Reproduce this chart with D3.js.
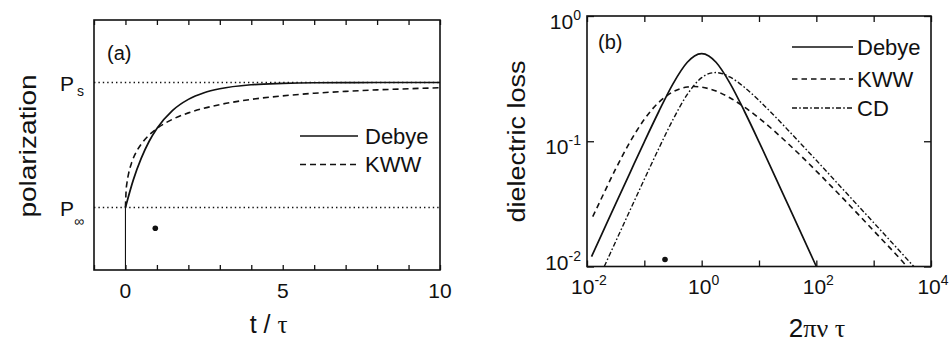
<!DOCTYPE html>
<html>
<head>
<meta charset="utf-8">
<script src="https://cdn.jsdelivr.net/npm/d3@7"></script>
<style>
  body { margin: 0; background: #fff; }
  svg { display: block; font-family: "Liberation Sans", Arial, Helvetica, sans-serif; }
</style>
</head>
<body>
<svg id="fig" width="952" height="345"></svg>
<script>
// ---------- Panel (a): polarization after a field step (P∞ = 0, Ps = 1) ----------
const timeTicks = [0, 5, 10];
const debyeT = [0, 0.25, 0.5, 0.75, 1, 1.5, 2, 2.5, 3, 4, 5, 6, 7, 8, 10];
const debyeP = [0, 0.221, 0.393, 0.528, 0.632, 0.777, 0.865, 0.918, 0.950, 0.982, 0.993, 0.998, 0.999, 1.0, 1.0];
const kwwT = [0, 0.02, 0.05, 0.1, 0.2, 0.35, 0.5, 0.75, 1, 1.5, 2, 3, 4, 5, 6, 7, 8, 9, 10];
const kwwP = [0, 0.132, 0.200, 0.271, 0.361, 0.447, 0.507, 0.579, 0.632, 0.706, 0.757, 0.823, 0.865, 0.893, 0.914, 0.929, 0.941, 0.950, 0.958];
const levelSubs = ["s", "\u221E"];
const levelValues = [1, 0];

// ---------- Panel (b): dielectric loss spectra ----------
const freqTicks = [1e-2, 1e0, 1e2, 1e4];
const freqExp = ["-2", "0", "2", "4"];
const lossTicks = [1e-2, 1e-1, 1e0];
const lossExp = ["-2", "-1", "0"];

const debyeW = [0.012, 0.0178, 0.0316, 0.0562, 0.1, 0.178, 0.316, 0.562, 0.75, 1, 1.333, 1.78, 3.16, 5.62, 10, 17.8, 31.6, 56.2, 100];
const debyeLoss = [0.0120, 0.0178, 0.0316, 0.0560, 0.0990, 0.172, 0.2875, 0.427, 0.480, 0.500, 0.480, 0.427, 0.2875, 0.172, 0.0990, 0.0560, 0.0316, 0.0178, 0.0100];

const kwwW = [0.0126, 0.0178, 0.0316, 0.0562, 0.1, 0.178, 0.316, 0.562, 0.75, 1, 1.78, 3.16, 5.62, 10, 17.8, 31.6, 56.2, 100, 316, 1000, 3160, 3800];
const kwwLoss = [0.0250, 0.0349, 0.0601, 0.0986, 0.1497, 0.2041, 0.2481, 0.2710, 0.2735, 0.2705, 0.2515, 0.2213, 0.1869, 0.1531, 0.1226, 0.0965, 0.0751, 0.0578, 0.0337, 0.0193, 0.0110, 0.0100];

const cdW = [0.02, 0.0316, 0.0562, 0.1, 0.178, 0.316, 0.562, 1, 1.333, 1.78, 2.37, 3.16, 5.62, 10, 17.8, 31.6, 56.2, 100, 316, 1000, 3160, 5010];
const cdLoss = [0.0100, 0.0158, 0.0281, 0.0497, 0.0872, 0.1489, 0.2365, 0.3218, 0.3464, 0.3535, 0.3447, 0.3245, 0.2688, 0.2117, 0.1628, 0.1237, 0.0934, 0.0704, 0.0397, 0.0224, 0.0126, 0.0100];

const legendA = ["Debye", "KWW"];
const legendB = ["Debye", "KWW", "CD"];

const svg = d3.select("#fig");
const ink = "#111";
const serif = "'Liberation Serif', 'DejaVu Serif', serif";
const styles = {
  solid: null,
  dashed: "6 4",
  dashdot: "5 2.2 1.6 2.2"
};

// ===================== Panel (a) =====================
const xA = d3.scaleLinear().domain([-1, 10]).range([94, 440]);
const yA = d3.scaleLinear().domain([-0.5, 1.5]).range([270, 20]);

const gA = svg.append("g");

// dotted reference levels Ps and P∞
gA.selectAll("line.level").data(levelValues).join("line")
  .attr("x1", xA(-1)).attr("x2", xA(10))
  .attr("y1", d => yA(d)).attr("y2", d => yA(d))
  .attr("stroke", ink).attr("stroke-width", 1.3)
  .attr("stroke-dasharray", "1.4 3");

// step at t = 0
gA.append("line")
  .attr("x1", xA(0)).attr("x2", xA(0))
  .attr("y1", yA(-0.5)).attr("y2", yA(0))
  .attr("stroke", ink).attr("stroke-width", 1.1);

const lineA = d3.line().x(d => xA(d[0])).y(d => yA(d[1])).curve(d3.curveMonotoneX);
gA.append("path").datum(d3.zip(debyeT, debyeP)).attr("d", lineA)
  .attr("fill", "none").attr("stroke", ink).attr("stroke-width", 1.7);
gA.append("path").datum(d3.zip(kwwT, kwwP)).attr("d", lineA)
  .attr("fill", "none").attr("stroke", ink).attr("stroke-width", 1.6)
  .attr("stroke-dasharray", styles.dashed);

// ticks (inward) on top and bottom
const tA = d3.range(-1, 11);
gA.append("g").attr("transform", `translate(0,${yA(-0.5)})`)
  .call(d3.axisBottom(xA).tickValues(tA).tickSizeInner(-5).tickSizeOuter(0).tickFormat(""))
  .call(g => g.select(".domain").remove());
gA.append("g").attr("transform", `translate(0,${yA(1.5)})`)
  .call(d3.axisTop(xA).tickValues(tA).tickSizeInner(-5).tickSizeOuter(0).tickFormat(""))
  .call(g => g.select(".domain").remove());
gA.selectAll(".tick line").attr("stroke", ink).attr("stroke-width", 1.3);

// frame
gA.append("rect").attr("x", xA(-1)).attr("y", yA(1.5))
  .attr("width", xA(10) - xA(-1)).attr("height", yA(-0.5) - yA(1.5))
  .attr("fill", "none").attr("stroke", ink).attr("stroke-width", 1.6);

// x tick labels
gA.selectAll("text.xt").data(timeTicks).join("text")
  .attr("x", d => xA(d)).attr("y", 298).attr("text-anchor", "middle")
  .attr("font-size", 21).attr("fill", ink).text(d => d);

// P level labels
levelValues.forEach((v, i) => {
  gA.append("text").attr("x", 60).attr("y", yA(v) + 8)
    .attr("font-size", 21).attr("fill", ink).text("P");
  if (i === 0) {
    gA.append("text").attr("x", 77).attr("y", yA(v) + 13.5)
      .attr("font-size", 14).attr("fill", ink).text(levelSubs[i]);
  } else {
    gA.append("text").attr("x", 74).attr("y", yA(v) + 18)
      .attr("font-size", 14).attr("fill", ink).text(levelSubs[i]);
  }
});

// axis titles
gA.append("text").attr("transform", "translate(36,146) rotate(-90) scale(1,0.86)")
  .attr("text-anchor", "middle").attr("font-size", 28).attr("fill", ink).text("polarization");
const tt = gA.append("text").attr("x", xA(4.55)).attr("y", 333)
  .attr("text-anchor", "middle").attr("font-size", 25).attr("fill", ink);
tt.append("tspan").text("t / ");
tt.append("tspan").attr("font-family", serif).text("\u03C4");

gA.append("text").attr("x", 107).attr("y", 60).attr("font-size", 20).attr("fill", ink).text("(a)");

// legend (a)
const legAStyle = [styles.solid, styles.dashed];
legendA.forEach((name, i) => {
  const y = 136 + i * 28.5;
  gA.append("line").attr("x1", 300).attr("x2", 358).attr("y1", y).attr("y2", y)
    .attr("stroke", ink).attr("stroke-width", i ? 1.6 : 1.3)
    .attr("stroke-dasharray", legAStyle[i]);
  gA.append("text").attr("x", 365).attr("y", y).attr("dy", "0.36em")
    .attr("font-size", 22).attr("fill", ink).text(name);
});

// stray mark
gA.append("circle").attr("cx", 155.3).attr("cy", 228.3).attr("r", 2.8).attr("fill", ink);

// ===================== Panel (b) =====================
const xB = d3.scaleLog().domain([1e-2, 1e4]).range([587, 931]);
const yB = d3.scaleLog().domain([1e-2, 1]).range([266.5, 16]);

const gB = svg.append("g");

const lineB = d3.line().x(d => xB(d[0])).y(d => yB(d[1])).curve(d3.curveMonotoneX);
gB.append("path").datum(d3.zip(debyeW, debyeLoss)).attr("d", lineB)
  .attr("fill", "none").attr("stroke", ink).attr("stroke-width", 1.7);
gB.append("path").datum(d3.zip(kwwW, kwwLoss)).attr("d", lineB)
  .attr("fill", "none").attr("stroke", ink).attr("stroke-width", 1.6)
  .attr("stroke-dasharray", "5.5 4");
gB.append("path").datum(d3.zip(cdW, cdLoss)).attr("d", lineB)
  .attr("fill", "none").attr("stroke", ink).attr("stroke-width", 1.4)
  .attr("stroke-dasharray", styles.dashdot);

const decadesX = [1e-2, 1e-1, 1e0, 1e1, 1e2, 1e3, 1e4];
gB.append("g").attr("transform", `translate(0,${yB(1e-2)})`)
  .call(d3.axisBottom(xB).tickValues(decadesX).tickSizeInner(-6).tickSizeOuter(0).tickFormat(""))
  .call(g => g.select(".domain").remove());
gB.append("g").attr("transform", `translate(0,${yB(1)})`)
  .call(d3.axisTop(xB).tickValues(decadesX).tickSizeInner(-6).tickSizeOuter(0).tickFormat(""))
  .call(g => g.select(".domain").remove());
gB.append("g").attr("transform", `translate(${xB(1e-2)},0)`)
  .call(d3.axisLeft(yB).tickValues(lossTicks).tickSizeInner(-7).tickSizeOuter(0).tickFormat(""))
  .call(g => g.select(".domain").remove());
gB.append("g").attr("transform", `translate(${xB(1e4)},0)`)
  .call(d3.axisRight(yB).tickValues(lossTicks).tickSizeInner(-7).tickSizeOuter(0).tickFormat(""))
  .call(g => g.select(".domain").remove());
gB.selectAll(".tick line").attr("stroke", ink).attr("stroke-width", 1.3);

gB.append("rect").attr("x", xB(1e-2)).attr("y", yB(1))
  .attr("width", xB(1e4) - xB(1e-2)).attr("height", yB(1e-2) - yB(1))
  .attr("fill", "none").attr("stroke", ink).attr("stroke-width", 1.6);

// x tick labels 10^n
freqTicks.forEach((v, i) => {
  const t = gB.append("text").attr("x", xB(v) + 2).attr("y", 294)
    .attr("text-anchor", "middle").attr("font-size", 21).attr("fill", ink);
  t.append("tspan").text("10");
  t.append("tspan").attr("dy", -9).attr("font-size", 14).text(freqExp[i]);
});
// y tick labels 10^n
lossTicks.forEach((v, i) => {
  const t = gB.append("text").attr("x", 581).attr("y", Math.min(yB(v) + 12.5, 270))
    .attr("text-anchor", "end").attr("font-size", 21).attr("fill", ink);
  t.append("tspan").text("10");
  t.append("tspan").attr("dy", -9).attr("font-size", 14).text(lossExp[i]);
});

// axis titles
gB.append("text").attr("transform", "translate(525,141.5) rotate(-90) scale(1,0.86)")
  .attr("text-anchor", "middle").attr("font-size", 27).attr("fill", ink).text("dielectric loss");
const xt = gB.append("text").attr("x", 817).attr("y", 337)
  .attr("text-anchor", "middle").attr("font-size", 26).attr("fill", ink);
xt.append("tspan").text("2");
xt.append("tspan").attr("font-family", serif).text("\u03C0\u03BD \u03C4");

gB.append("text").attr("x", 598).attr("y", 49).attr("font-size", 20).attr("fill", ink).text("(b)");

// legend (b)
const legBStyle = [styles.solid, "5.5 4", styles.dashdot];
legendB.forEach((name, i) => {
  const y = [47, 79, 108][i];
  gB.append("line").attr("x1", 792).attr("x2", 853).attr("y1", y).attr("y2", y)
    .attr("stroke", ink).attr("stroke-width", i === 0 ? 1.3 : 1.4)
    .attr("stroke-dasharray", legBStyle[i]);
  gB.append("text").attr("x", 857).attr("y", y).attr("dy", "0.36em")
    .attr("font-size", 22).attr("fill", ink).text(name);
});

gB.append("circle").attr("cx", 665).attr("cy", 259.5).attr("r", 2.8).attr("fill", ink);
</script>
</body>
</html>
